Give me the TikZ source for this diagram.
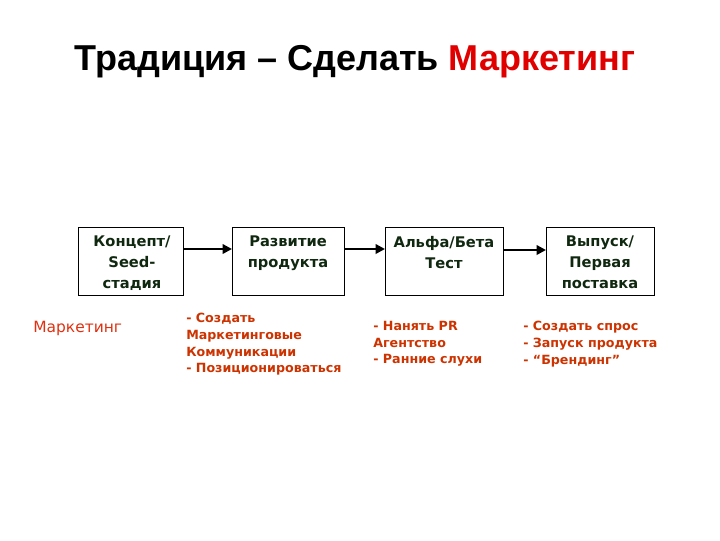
\documentclass[tikz,border=0pt]{standalone}
\usepackage{fontspec}
\setmainfont{DejaVu Sans}
\newfontfamily\arialf{Liberation Sans}
\usetikzlibrary{arrows.meta}
\definecolor{boxtext}{HTML}{102810}
\definecolor{lowred}{HTML}{CC3300}
\definecolor{titlered}{HTML}{E00000}
\definecolor{labelred}{HTML}{E03010}
\tikzset{
  stagebox/.style={draw=black, line width=1pt, anchor=north west, inner sep=0pt},
  stagetext/.style={anchor=north, align=center, font=\bfseries\fontsize{11}{15.5}\selectfont, text=boxtext, inner sep=0pt},
  lowtext/.style={anchor=north west, align=left, font=\bfseries\fontsize{9.5}{12.5}\selectfont, text=lowred, inner sep=0pt},
  flow/.style={line width=2pt, -{Triangle[length=7pt,width=7pt]}}
}
\begin{document}
\begin{tikzpicture}[x=0.75pt,y=-0.75pt]
\useasboundingbox (0,0) rectangle (720,540);
\node[anchor=base, font=\arialf\bfseries\fontsize{27}{32}\selectfont, inner sep=0pt] (title) at (355,70) {Традиция – Сделать \textcolor{titlered}{Маркетинг}};
% boxes
\node[stagebox, minimum width=105*0.75pt, minimum height=68*0.75pt] (b1) at (78,227) {};
\node[stagebox, minimum width=112*0.75pt, minimum height=68*0.75pt] (b2) at (232,227) {};
\node[stagebox, minimum width=118*0.75pt, minimum height=68*0.75pt] (b3) at (385,227) {};
\node[stagebox, minimum width=108*0.75pt, minimum height=68*0.75pt] (b4) at (546,227) {};
\node[stagetext] (t1) at (132,236) {Концепт/\\Seed-\\стадия};
\node[stagetext] (t2) at (288,236) {Развитие\\продукта};
\node[stagetext] (t3) at (444,236) {Альфа/Бета\\Тест};
\node[stagetext] (t4) at (600,236) {Выпуск/\\Первая\\поставка};
% arrows
\draw[flow] (b1.east |- 0,249) -- (b2.west |- 0,249);
\draw[flow] (b2.east |- 0,249) -- (b3.west |- 0,249);
\draw[flow] (b3.east |- 0,250) -- (b4.west |- 0,250);
% lower texts
\node[anchor=base west, font=\fontsize{11.6}{13}\selectfont, text=labelred, inner sep=0pt] (mk) at (33,332) {Маркетинг};
\node[lowtext] (l2) at (186,313) {- Создать\\Маркетинговые\\Коммуникации\\- Позиционироваться};
\node[lowtext] (l3) at (373,321) {- Нанять PR\\Агентство\\- Ранние слухи};
\node[lowtext] (l4) at (523,321) {- Создать спрос\\- Запуск продукта\\- “Брендинг”};
\end{tikzpicture}
\end{document}
